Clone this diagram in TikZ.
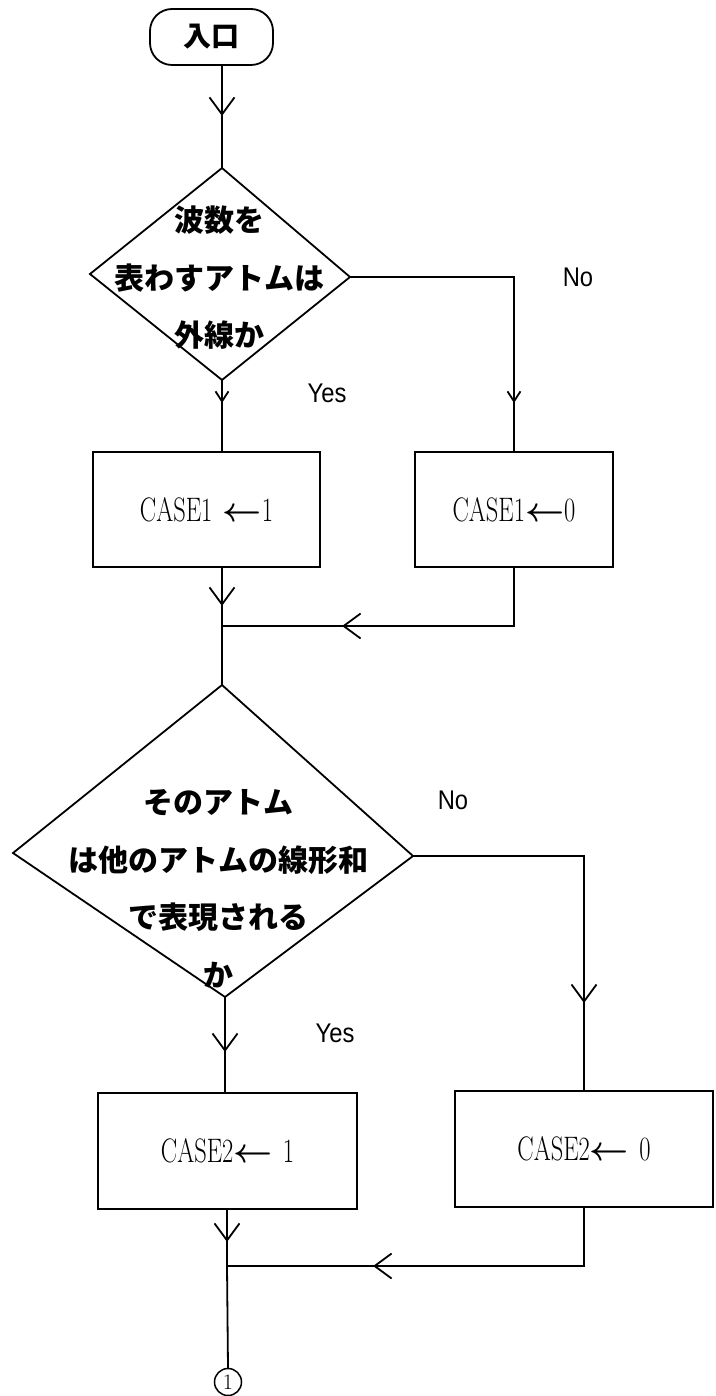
\RequirePackage{fix-cm}
\documentclass[tikz,border=0pt]{standalone}
\usepackage{fontspec}
\usepackage{graphicx}
\usepackage{amsmath}
\usetikzlibrary{arrows.meta,decorations.markings}
\newfontfamily\jpfont{Noto Sans CJK JP}
\newfontfamily\lblfont{Liberation Sans}[FakeStretch=0.88]
\newcommand\cs[1]{\scalebox{0.72}[1]{#1}}
\newcommand\larr{$\boldsymbol{\leftarrow}$}
\tikzset{
  ln/.style={line width=1.8pt},
  procbox/.style={draw, line width=1.8pt, inner sep=0pt, font=\fontsize{34}{36}\selectfont},
  jptext/.style={font=\jpfont\bfseries\fontsize{30}{57.5}\selectfont, align=center, inner sep=0pt},
  lbl/.style={font=\lblfont\fontsize{27}{30}\selectfont, inner sep=0pt},
  arr/.style={postaction={decorate}, decoration={markings,
      mark=at position #1 with {\arrow{Straight Barb[length=17pt,width=25pt]}}}},
  sarr/.style={postaction={decorate}, decoration={markings,
      mark=at position #1 with {\arrow{Straight Barb[length=10pt,width=13pt]}}}},
}
\begin{document}
\begin{tikzpicture}[x=1pt,y=-1pt]
\path[use as bounding box, fill=white] (0,0) rectangle (715,1396);

% terminal
\node[draw, ln, rounded corners=22pt, minimum width=123pt, minimum height=56pt,
      font=\jpfont\bfseries\fontsize{28}{30}\selectfont] (term) at (211.5,37) {入口};

% decision 1
\coordinate (d1t) at (222,168);
\coordinate (d1l) at (90,274);
\coordinate (d1r) at (350,277);
\coordinate (d1b) at (222,380);
\draw[ln] (d1t) -- (d1r) -- (d1b) -- (d1l) -- cycle;
\node[jptext] (t1) at (219,278) {波数を\\表わすアトムは\\外線か};

% boxes level 1
\node[procbox, minimum width=227pt, minimum height=115pt] (b1) at (206.5,509.5) {\cs{CASE1} \larr\cs{1}};
\node[procbox, minimum width=198pt, minimum height=115pt] (b2) at (514,509.5) {\cs{CASE1}\larr\cs{0}};

\coordinate (j1) at (222,626);

% decision 2
\coordinate (d2t) at (222,685);
\coordinate (d2l) at (13,853);
\coordinate (d2r) at (413,856);
\coordinate (d2b) at (225,997);
\draw[ln] (d2t) -- (d2r) -- (d2b) -- (d2l) -- cycle;
\node[jptext] (t2) at (218,889) {そのアトム\\は他のアトムの線形和\\で表現される\\か};

% boxes level 2
\node[procbox, minimum width=259pt, minimum height=116pt] (b3) at (227.5,1151) {\cs{CASE2}\larr\ \cs{1}};
\node[procbox, minimum width=258pt, minimum height=116pt] (b4) at (584,1149) {\cs{CASE2}\larr\ \cs{0}};

\coordinate (j2) at (227,1266);
\node[draw, circle, line width=1.5pt, minimum size=27pt, inner sep=0pt,
      font=\fontsize{22}{24}\selectfont] (c1) at (228,1382) {1};

% labels
\node[lbl] (no1) at (578,277) {No};
\node[lbl] (yes1) at (327,393) {Yes};
\node[lbl] (no2) at (453,800) {No};
\node[lbl] (yes2) at (335,1033) {Yes};

% connectors
\draw[ln, arr=50pt] (term.south -| d1t) -- (d1t);
\draw[ln, sarr=23pt] (d1b) -- (d1b |- b1.north);
\draw[ln, sarr=290pt] (d1r) -| (b2.north);
\draw[ln, arr=38pt] (b1.south -| j1) -- (j1);
\draw[ln, arr=230pt] (b2.south) |- (j1);
\draw[ln] (j1) -- (d2t);
\draw[ln, arr=55pt] (d2b) -- (d2b |- b3.north);
\draw[ln, arr=318pt] (d2r) -| (b4.north);
\draw[ln, arr=32pt] (b3.south -| j2) -- (j2);
\draw[ln, arr=269pt] (b4.south) |- (j2);
\draw[ln] (j2) -- (c1.north);
\end{tikzpicture}
\end{document}
